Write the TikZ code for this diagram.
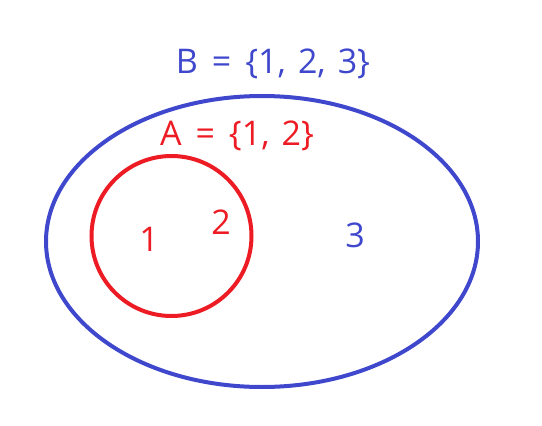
\documentclass[tikz,border=0pt]{standalone}
\usepackage{fontspec}
\setmainfont{Open Sans}
\definecolor{pblue}{HTML}{3F48CC}
\definecolor{pred}{HTML}{ED1C24}
\begin{document}
\begin{tikzpicture}[x=1pt,y=-1pt,
  lbl/.style={inner sep=0pt,font=\fontsize{34}{38}\selectfont},
  bluetxt/.style={lbl,text=pblue},
  redtxt/.style={lbl,text=pred}]
\useasboundingbox (0,0) rectangle (542,426);
\draw[pblue,line width=4pt] (262,241.5) ellipse [x radius=216,y radius=145.5];
\node[circle,draw=pred,line width=4pt,minimum size=160pt,inner sep=0pt] (A) at (171.5,236) {};
\node[bluetxt] (tB) at (273,64) {B\hspace{14pt}=\hspace{14pt}\{1,\hspace{12pt}2,\hspace{12pt}3\}};
\node[redtxt] (tA) at (237,136) {A\hspace{14pt}=\hspace{14pt}\{1,\hspace{12pt}2\}};
\node[redtxt] (n1) at (149,239) {1};
\node[redtxt] (n2) at (221,222) {2};
\node[bluetxt] (n3) at (355,235) {3};
\end{tikzpicture}
\end{document}
